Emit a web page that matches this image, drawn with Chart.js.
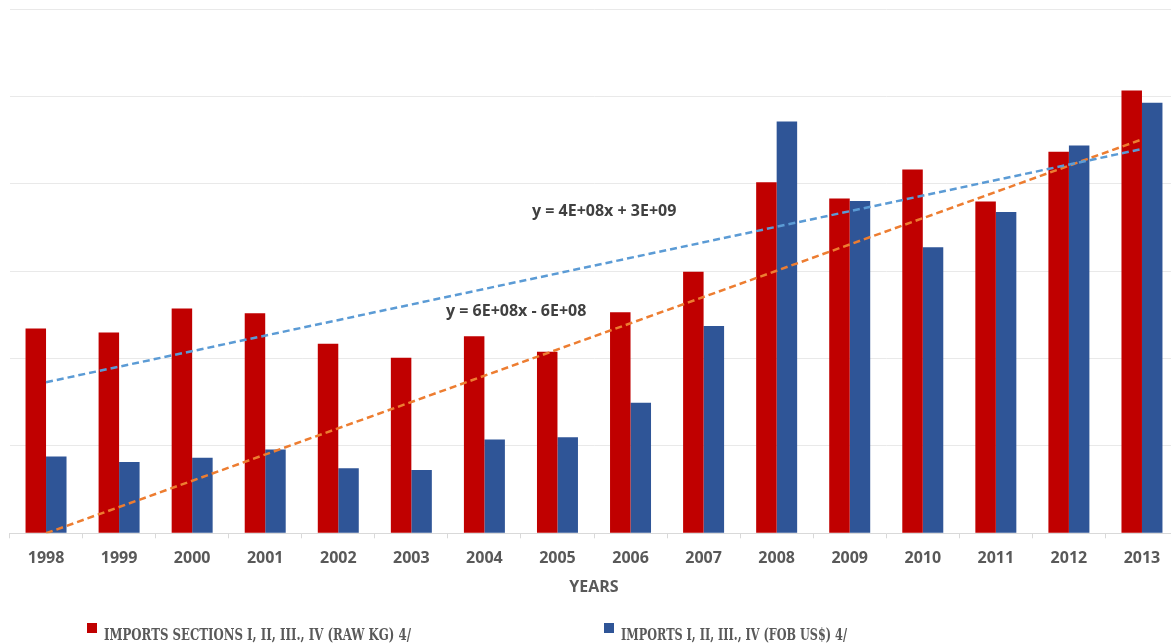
<!DOCTYPE html>
<html lang="en">
<head>
    <meta charset="UTF-8">
    <title>Imports chart</title>
    <script src="https://cdn.jsdelivr.net/npm/chart.js"></script>
    <style>
        body { margin: 0; overflow: hidden; background: #fff; }
        #wrap { width: 1190px; height: 644px; }
    </style>
</head>
<body>
    <div id="wrap"><canvas id="importsChart"></canvas></div>

<script>
    // years on the x axis
    const years = ['1998', '1999', '2000', '2001', '2002', '2003', '2004', '2005',
                   '2006', '2007', '2008', '2009', '2010', '2011', '2012', '2013'];

    // values, in billions (one gridline = 2E+09)
    const rawKg = [4.69, 4.60, 5.15, 5.04, 4.34, 4.02, 4.51, 4.16,
                   5.06, 5.99, 8.04, 7.67, 8.33, 7.60, 8.74, 10.14];
    const fobUsd = [1.76, 1.63, 1.73, 1.92, 1.49, 1.45, 2.15, 2.20,
                    2.99, 4.75, 9.43, 7.61, 6.55, 7.36, 8.88, 9.86];

    // trend lines: value at first year and at last year
    const trendFob = [3.46, 8.80];
    const trendKg = [0.00, 9.02];

    const legendLabels = ['IMPORTS SECTIONS I, II, III., IV (RAW KG) 4/',
                          'IMPORTS I, II, III., IV (FOB US$) 4/'];
    const equations = ['y = 4E+08x + 3E+09', 'y = 6E+08x - 6E+08'];

    // only the two ends of a trend line carry a value
    function endsOnly(pair) {
        return years.map((y, i) => i === 0 ? pair[0] : (i === years.length - 1 ? pair[1] : null));
    }

    // equation labels and the legend at the bottom
    const extraText = {
        id: 'extraText',
        afterDraw(chart) {
            const ctx = chart.ctx;
            ctx.save();
            ctx.textBaseline = 'middle';
            ctx.fillStyle = '#404040';
            ctx.font = 'bold 16px "Open Sans"';
            ctx.fillText(equations[0], 532, 211, 148);
            ctx.fillText(equations[1], 446, 311, 145);

            const items = [
                { x: 87, w: 307, color: '#C00000', text: legendLabels[0] },
                { x: 604, w: 226, color: '#2F5597', text: legendLabels[1] }
            ];
            ctx.font = 'bold 16px "DejaVu Serif"';
            ctx.textBaseline = 'alphabetic';
            items.forEach(it => {
                ctx.fillStyle = it.color;
                ctx.fillRect(it.x, 623, 10, 10);
                ctx.fillStyle = '#595959';
                ctx.fillText(it.text, it.x + 17, 640, it.w);
            });
            ctx.restore();
        }
    };

    const ctx = document.getElementById('importsChart').getContext('2d');
    new Chart(ctx, {
        type: 'bar',
        data: {
            labels: years,
            datasets: [
                {
                    label: legendLabels[0],
                    data: rawKg,
                    backgroundColor: '#C00000',
                    order: 1
                },
                {
                    label: legendLabels[1],
                    data: fobUsd,
                    backgroundColor: '#2F5597',
                    order: 1
                },
                {
                    type: 'line',
                    label: 'trend FOB',
                    data: endsOnly(trendFob),
                    borderColor: '#5B9BD5',
                    borderWidth: 2.5,
                    borderDash: [7, 4],
                    pointRadius: 0,
                    spanGaps: true,
                    order: 0
                },
                {
                    type: 'line',
                    label: 'trend KG',
                    data: endsOnly(trendKg),
                    borderColor: '#ED7D31',
                    borderWidth: 2.5,
                    borderDash: [7, 4],
                    pointRadius: 0,
                    spanGaps: true,
                    order: 0
                }
            ]
        },
        options: {
            responsive: true,
            maintainAspectRatio: false,
            animation: false,
            datasets: {
                bar: { categoryPercentage: 0.561, barPercentage: 1.0 }
            },
            layout: { padding: { left: 9.5, right: 11.5, top: 9.3, bottom: 0 } },
            plugins: {
                legend: { display: false },
                tooltip: { enabled: false }
            },
            scales: {
                x: {
                    grid: {
                        offset: true,
                        drawOnChartArea: false,
                        drawTicks: true,
                        tickLength: 5,
                        color: '#d9d9d9'
                    },
                    border: { color: '#d9d9d9' },
                    ticks: {
                        padding: 11,
                        color: '#595959',
                        font: { family: 'Open Sans', size: 16, weight: 'bold' }
                    },
                    title: {
                        display: true,
                        text: 'YEARS',
                        color: '#595959',
                        font: { family: 'Open Sans', size: 16, weight: 'bold' },
                        padding: { top: 0, bottom: 47 }
                    },
                    afterFit(scale) { scale.height = 110.7; }
                },
                y: {
                    min: 0,
                    max: 12,
                    ticks: { display: false, stepSize: 2 },
                    grid: { color: '#e9e9e9', drawTicks: false },
                    border: { display: false },
                    afterFit(scale) { scale.width = 0; }
                }
            }
        },
        plugins: [extraText]
    });
</script>
</body>
</html>
